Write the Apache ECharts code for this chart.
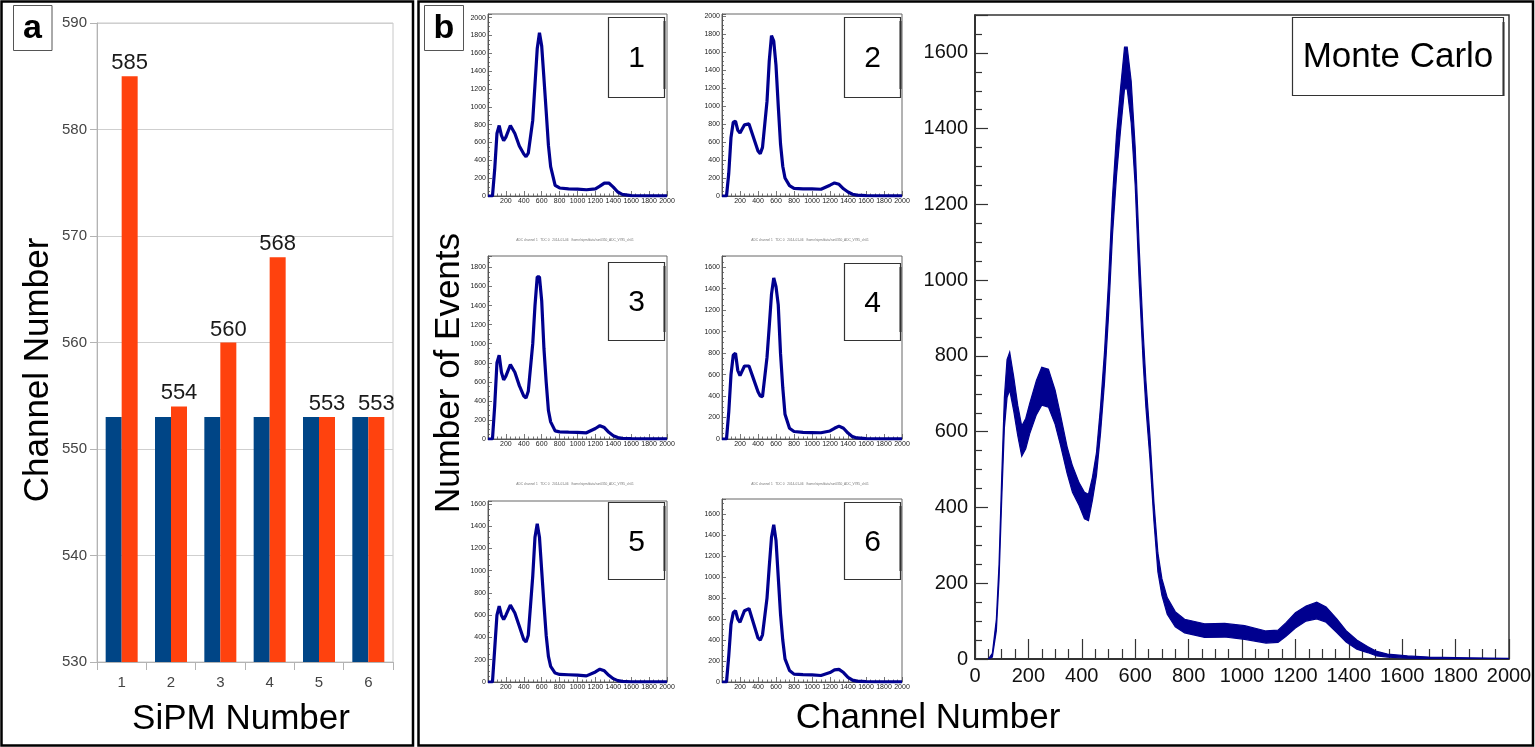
<!DOCTYPE html>
<html><head><meta charset="utf-8">
<script src="https://cdn.jsdelivr.net/npm/echarts@6/dist/echarts.min.js"></script>
<style>html,body{margin:0;padding:0;background:#fff;}#c{width:1535px;height:747px;}</style>
</head><body><div id="c"></div>
<script>
// ---------- Panel a: bar chart ----------
const sipmCategories = ['1', '2', '3', '4', '5', '6'];
const referenceChannel = [553, 553, 553, 553, 553, 553];
const measuredChannel = [585, 554, 560, 568, 553, 553];

// ---------- Panel b: six small measured histograms ----------
const smallChannels = [0, 50, 75, 100, 125, 150, 175, 200, 250, 300, 350, 400, 425, 450, 500, 525, 550, 575, 600, 625, 650, 675, 700, 750, 800, 900, 1000, 1100, 1200, 1250, 1300, 1350, 1400, 1450, 1500, 1600, 1800, 2000];
const hist1 = [0, 0, 300, 700, 790, 680, 620, 660, 790, 700, 560, 470, 440, 480, 850, 1250, 1650, 1830, 1680, 1320, 950, 570, 330, 120, 90, 80, 78, 70, 80, 110, 145, 145, 100, 45, 18, 5, 2, 1];
const hist2 = [0, 0, 250, 650, 820, 830, 730, 700, 790, 800, 650, 500, 470, 540, 1050, 1500, 1780, 1720, 1450, 1000, 580, 330, 200, 115, 85, 80, 78, 75, 120, 145, 130, 80, 45, 20, 10, 4, 2, 1];
const hist3 = [0, 0, 350, 800, 880, 700, 620, 660, 780, 700, 560, 450, 430, 500, 1000, 1400, 1700, 1700, 1450, 950, 600, 300, 180, 85, 75, 72, 70, 65, 110, 140, 120, 70, 35, 15, 7, 3, 1, 1];
const hist4 = [0, 0, 250, 600, 780, 800, 640, 590, 680, 680, 560, 440, 400, 395, 760, 1050, 1350, 1500, 1420, 1250, 800, 480, 230, 100, 70, 62, 60, 58, 75, 100, 120, 100, 55, 22, 10, 3, 1, 1];
const hist5 = [0, 0, 300, 600, 680, 600, 560, 600, 690, 620, 500, 380, 360, 420, 950, 1300, 1420, 1300, 1000, 700, 420, 230, 140, 80, 68, 65, 62, 55, 90, 115, 100, 60, 30, 12, 5, 2, 1, 1];
const hist6 = [0, 0, 250, 550, 660, 680, 600, 570, 680, 700, 560, 420, 400, 450, 800, 1100, 1380, 1500, 1350, 1000, 650, 400, 220, 110, 75, 70, 68, 62, 90, 115, 120, 90, 45, 18, 8, 3, 1, 1];
const smallYMax = [2040, 2020, 1920, 1705, 1625, 1745];
const smallLabels = ['1', '2', '3', '4', '5', '6'];

// ---------- Panel b: Monte Carlo histogram ----------
const mcChannels = [50, 65, 80, 90, 100, 110, 120, 130, 145, 160, 175, 190, 205, 230, 250, 275, 300, 320, 345, 365, 390, 410, 425, 440, 455, 470, 485, 500, 515, 530, 545, 560, 570, 585, 600, 615, 630, 640, 655, 670, 685, 700, 720, 750, 785, 860, 935, 1010, 1090, 1135, 1165, 1200, 1240, 1280, 1315, 1355, 1390, 1430, 1470, 1505, 1545, 1620, 1700, 1850, 2000];
const mcCounts = [0, 10, 90, 230, 450, 650, 740, 760, 700, 630, 575, 595, 635, 690, 720, 715, 665, 605, 525, 475, 435, 405, 400, 450, 515, 630, 770, 950, 1170, 1330, 1450, 1560, 1560, 1470, 1300, 1040, 820, 700, 560, 390, 255, 190, 140, 105, 87, 75, 76, 70, 58, 60, 78, 102, 120, 128, 117, 88, 60, 38, 25, 14, 9, 5, 3, 2, 1];
const mcSpread = [0, 5, 15, 20, 30, 40, 50, 50, 45, 40, 40, 40, 40, 45, 50, 50, 45, 40, 35, 35, 30, 35, 35, 30, 30, 35, 40, 45, 50, 55, 55, 55, 55, 55, 50, 45, 40, 35, 30, 25, 25, 22, 22, 20, 18, 18, 18, 18, 16, 16, 18, 20, 20, 22, 20, 18, 15, 12, 8, 6, 4, 3, 2, 1, 1];

// ---------- styles / layout ----------
const FONT = "'Liberation Sans', Arial, Helvetica, sans-serif";
const BLUE_BAR = '#004586';
const ORANGE_BAR = '#ff420e';
const HIST_BLUE = '#00008f';
const plain = v => String(v);

const smallHists = [hist1, hist2, hist3, hist4, hist5, hist6];
const smallRects = [
  {left: 488, top: 14, right: 667, bottom: 196},
  {left: 722, top: 14, right: 902, bottom: 196},
  {left: 488, top: 256, right: 667, bottom: 439},
  {left: 722, top: 256, right: 902, bottom: 439},
  {left: 488, top: 501, right: 667, bottom: 682},
  {left: 722, top: 499, right: 902, bottom: 682}
];
const numBoxes = [
  {x: 608, y: 17, w: 56, h: 80},
  {x: 844, y: 17, w: 56, h: 80},
  {x: 608, y: 262, w: 56, h: 78},
  {x: 844, y: 263, w: 56, h: 77},
  {x: 608, y: 502, w: 56, h: 77},
  {x: 844, y: 502, w: 56, h: 77}
];

const grids = [{left: 97, top: 23, width: 296, height: 639, show: true, borderColor: '#c8c8c8', borderWidth: 1, backgroundColor: 'transparent'}];
const xAxes = [{
  gridIndex: 0, type: 'category', data: sipmCategories,
  axisLine: {show: true, lineStyle: {color: '#b3b3b3', width: 1}},
  axisTick: {show: true, length: 8, lineStyle: {color: '#b3b3b3'}},
  axisLabel: {fontFamily: FONT, fontSize: 15, color: '#444', margin: 13},
  splitLine: {show: false}
}];
const yAxes = [{
  gridIndex: 0, type: 'value', min: 530, max: 590, interval: 10,
  axisLine: {show: true, lineStyle: {color: '#b3b3b3', width: 1}},
  axisTick: {show: true, length: 7, lineStyle: {color: '#b3b3b3'}},
  axisLabel: {fontFamily: FONT, fontSize: 15, color: '#444', margin: 10, formatter: plain},
  splitLine: {show: true, lineStyle: {color: '#cfcfcf', width: 1}}
}];
const series = [
  {type: 'bar', xAxisIndex: 0, yAxisIndex: 0, data: referenceChannel, barWidth: 16, barGap: '0%', itemStyle: {color: BLUE_BAR}, silent: true},
  {type: 'bar', xAxisIndex: 0, yAxisIndex: 0, data: measuredChannel, barWidth: 16, barGap: '0%', itemStyle: {color: ORANGE_BAR}, silent: true,
    label: {show: true, position: 'top', distance: 2, fontFamily: FONT, fontSize: 22, color: '#1a1a1a'}}
];

smallRects.forEach((r, i) => {
  const gi = i + 1;
  grids.push({left: r.left, top: r.top, width: r.right - r.left, height: r.bottom - r.top, show: true, borderColor: '#666', borderWidth: 1, backgroundColor: 'transparent'});
  xAxes.push({
    gridIndex: gi, type: 'value', min: 0, max: 2000, interval: 200,
    axisLine: {show: true, lineStyle: {color: '#555', width: 1}},
    axisTick: {show: true, inside: true, length: 5, lineStyle: {color: '#555', width: 0.8}},
    minorTick: {show: true, splitNumber: 4, length: 2.5, lineStyle: {color: '#555', width: 0.8}},
    axisLabel: {fontFamily: FONT, fontSize: 7, color: '#222', margin: 2, showMinLabel: false, formatter: plain},
    splitLine: {show: false}
  });
  yAxes.push({
    gridIndex: gi, type: 'value', min: 0, max: smallYMax[i], interval: 200,
    axisLine: {show: true, lineStyle: {color: '#555', width: 1}},
    axisTick: {show: true, inside: true, length: 4, lineStyle: {color: '#555', width: 0.8}},
    minorTick: {show: true, splitNumber: 4, length: 2, lineStyle: {color: '#555', width: 0.8}},
    axisLabel: {fontFamily: FONT, fontSize: 7, color: '#222', margin: 2, showMaxLabel: false, formatter: plain},
    splitLine: {show: false}
  });
  series.push({
    type: 'line', xAxisIndex: gi, yAxisIndex: gi, silent: true, symbol: 'none',
    data: smallChannels.map((c, k) => [c, smallHists[i][k]]),
    lineStyle: {color: HIST_BLUE, width: 3.2}, clip: true
  });
});

// big Monte Carlo plot
grids.push({left: 975, top: 15, width: 534, height: 644, show: true, borderColor: '#333', borderWidth: 1.5, backgroundColor: 'transparent'});
xAxes.push({
  gridIndex: 7, type: 'value', min: 0, max: 2000, interval: 200,
  axisLine: {show: true, lineStyle: {color: '#222', width: 1.5}},
  axisTick: {show: true, inside: true, length: 20, lineStyle: {color: '#333', width: 1.2}},
  minorTick: {show: true, splitNumber: 4, length: 10, lineStyle: {color: '#333', width: 1.2}},
  axisLabel: {fontFamily: FONT, fontSize: 20, color: '#111', margin: 7, formatter: plain},
  splitLine: {show: false}
});
yAxes.push({
  gridIndex: 7, type: 'value', min: 0, max: 1700, interval: 200,
  axisLine: {show: true, lineStyle: {color: '#222', width: 1.5}},
  axisTick: {show: true, inside: true, length: 13, lineStyle: {color: '#333', width: 1.2}},
  minorTick: {show: true, splitNumber: 4, length: 7, lineStyle: {color: '#333', width: 1.2}},
  axisLabel: {fontFamily: FONT, fontSize: 20, color: '#111', margin: 7, showMaxLabel: false, formatter: plain},
  splitLine: {show: false}
});
series.push({
  type: 'custom', xAxisIndex: 7, yAxisIndex: 7, silent: true, clip: true,
  data: [[0, 0]], encode: {x: 0, y: 1},
  renderItem: function (params, api) {
    const pts = [];
    for (let i = 0; i < mcChannels.length; i++) pts.push(api.coord([mcChannels[i], mcCounts[i] + mcSpread[i]]));
    for (let i = mcChannels.length - 1; i >= 0; i--) pts.push(api.coord([mcChannels[i], Math.max(0, mcCounts[i] - mcSpread[i])]));
    return {type: 'polygon', shape: {points: pts}, style: {fill: HIST_BLUE, stroke: HIST_BLUE, lineWidth: 1.2}};
  }
});

// ---------- graphic overlay ----------
function txt(x, y, text, size, opts) {
  opts = opts || {};
  return {
    type: 'text', x: x, y: y, rotation: opts.rot || 0, z: 100, silent: true,
    style: {text: text, font: (opts.bold ? 'bold ' : '') + size + 'px ' + FONT, fill: opts.color || '#000',
      textAlign: opts.align || 'center', textVerticalAlign: 'middle', align: opts.align || 'center', verticalAlign: 'middle'}
  };
}
function box(x, y, w, h, stroke, lw) {
  return {type: 'rect', z: 90, silent: true, shape: {x: x, y: y, width: w, height: h}, style: {fill: '#fff', stroke: stroke, lineWidth: lw}};
}
function line(x1, y1, x2, y2, color, lw) {
  return {type: 'line', z: 95, silent: true, shape: {x1: x1, y1: y1, x2: x2, y2: y2}, style: {stroke: color, lineWidth: lw}};
}

const graphics = [
  {type: 'rect', z: 80, silent: true, shape: {x: 1.5, y: 1.5, width: 411.5, height: 744}, style: {fill: 'none', stroke: '#000', lineWidth: 2.5}},
  {type: 'rect', z: 80, silent: true, shape: {x: 418.5, y: 1.5, width: 1114.5, height: 744}, style: {fill: 'none', stroke: '#000', lineWidth: 2.5}},
  box(13.5, 5.5, 38.5, 45, '#555', 1), txt(32.5, 29, 'a', 34, {bold: true}),
  box(424.5, 5.5, 39, 45, '#555', 1), txt(444, 29, 'b', 34, {bold: true}),
  txt(38, 370, 'Channel Number', 35, {rot: Math.PI / 2}),
  txt(241, 719, 'SiPM Number', 35),
  txt(449, 373, 'Number of Events', 35, {rot: Math.PI / 2}),
  txt(928, 718, 'Channel Number', 35),
  box(1292.5, 17.5, 211, 78, '#333', 1.2), line(1503.5, 22, 1503.5, 96, '#333', 2),
  txt(1398, 57, 'Monte Carlo', 35)
];
numBoxes.forEach((b, i) => {
  graphics.push(box(b.x + 0.5, b.y + 0.5, b.w, b.h, '#333', 1.2));
  graphics.push(line(b.x + b.w + 0.5, b.y + 4, b.x + b.w + 0.5, b.y + b.h - 8, '#333', 2));
  graphics.push(txt(b.x + b.w / 2 + 0.5, b.y + b.h / 2 + 2, smallLabels[i], 30));
});
// tiny ROOT canvas titles above rows 2 and 3
[[575, 240], [810, 240], [575, 484], [810, 484]].forEach(p => {
  graphics.push(txt(p[0], p[1], 'ADC channel 1   TDC 0   2014-01-06   /home/sipm/data/run0350_ADC_V785_ch01', 3.2, {color: '#777'}));
});

const chart = echarts.init(document.getElementById('c'), null, {renderer: 'canvas'});
chart.setOption({
  animation: false,
  backgroundColor: '#fff',
  grid: grids,
  xAxis: xAxes,
  yAxis: yAxes,
  series: series,
  graphic: graphics
});
</script>
</body></html>
